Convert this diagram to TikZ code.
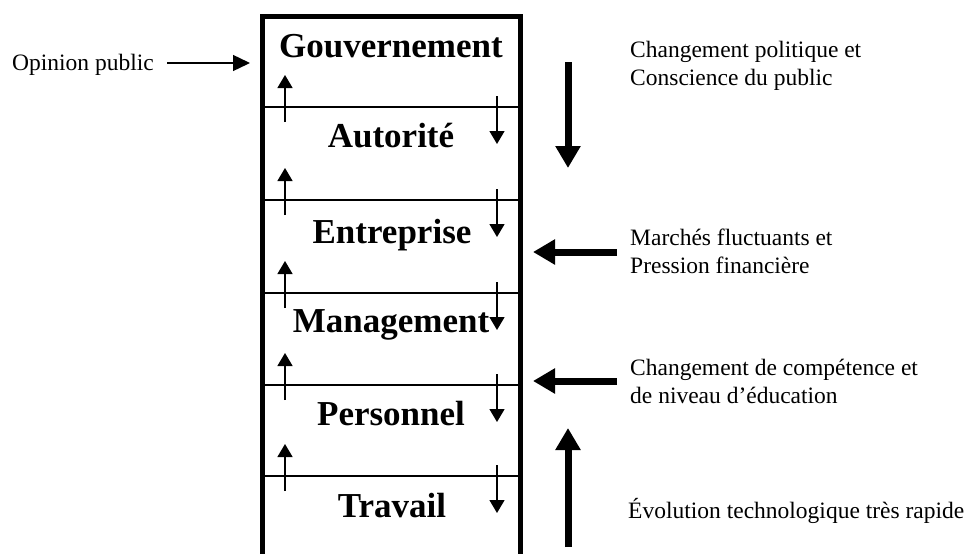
\documentclass[tikz,border=0pt]{standalone}
\usepackage{fontspec}
\setmainfont{Liberation Serif}
\usetikzlibrary{arrows.meta}
\tikzset{
  level/.style={font=\fontsize{35}{40}\selectfont\bfseries, anchor=base, inner sep=0pt},
  side/.style={font=\fontsize{23.5}{28}\selectfont, anchor=base west, inner sep=0pt, align=left},
  frame/.style={line width=5pt},
  divider/.style={line width=1.4pt},
  smallarrow/.style={line width=1.4pt, -{Triangle[length=13pt,width=15pt]}},
  bigarrow/.style={line width=7pt, -{Triangle[length=22pt,width=24pt]}},
  thinarrow/.style={line width=1.4pt, -{Triangle[length=17pt,width=16pt]}}
}
\begin{document}
\begin{tikzpicture}[x=1pt,y=-1pt]
\useasboundingbox (0,0) rectangle (970,554);
% frame
\coordinate (bl) at (262,556);
\coordinate (tl) at (262,16);
\coordinate (tr) at (520,16);
\coordinate (br) at (520,556);
\draw[frame] (bl) -- (tl) -- (tr) -- (br);
% dividers
\foreach \i/\y in {1/107,2/200,3/293,4/385,5/476}{
  \coordinate (dl\i) at (262,\y);
  \coordinate (dr\i) at (520,\y);
  \draw[divider] (dl\i) -- (dr\i);
  \coordinate (us\i) at (285,\y+15);
  \coordinate (ut\i) at (285,\y-32);
  \draw[smallarrow] (us\i) -- (ut\i);
  \coordinate (ds\i) at (497,\y-11);
  \coordinate (dt\i) at (497,\y+37);
  \draw[smallarrow] (ds\i) -- (dt\i);
}
% levels
\node[level] (gouv) at (391,57) {Gouvernement};
\node[level] (auto) at (391,147) {Autorité};
\node[level] (entr) at (392,243) {Entreprise};
\node[level] (mana) at (391,332) {Management};
\node[level] (pers) at (391,425) {Personnel};
\node[level] (trav) at (392,517) {Travail};
% left
\node[side] (opin) at (12,70) {Opinion public};
\coordinate (opinstart) at (167,63);
\coordinate (opinend) at (250,63);
\draw[thinarrow] (opinstart) -- (opinend);
% right
\node[side] (pol) at (630,85) {Changement politique et\\Conscience du public};
\coordinate (pols) at (568,62);
\coordinate (polt) at (568,168);
\draw[bigarrow] (pols) -- (polt);
\node[side] (mar) at (630,273) {Marchés fluctuants et\\Pression financière};
\coordinate (mars) at (617,252);
\coordinate (mart) at (533,252);
\draw[bigarrow] (mars) -- (mart);
\node[side] (comp) at (630,403) {Changement de compétence et\\de niveau d’éducation};
\coordinate (comps) at (617,381);
\coordinate (compt) at (533,381);
\draw[bigarrow] (comps) -- (compt);
\node[side] (evol) at (628,518) {Évolution technologique très rapide};
\coordinate (evols) at (568,547);
\coordinate (evolt) at (568,428);
\draw[bigarrow] (evols) -- (evolt);
\end{tikzpicture}
\end{document}
